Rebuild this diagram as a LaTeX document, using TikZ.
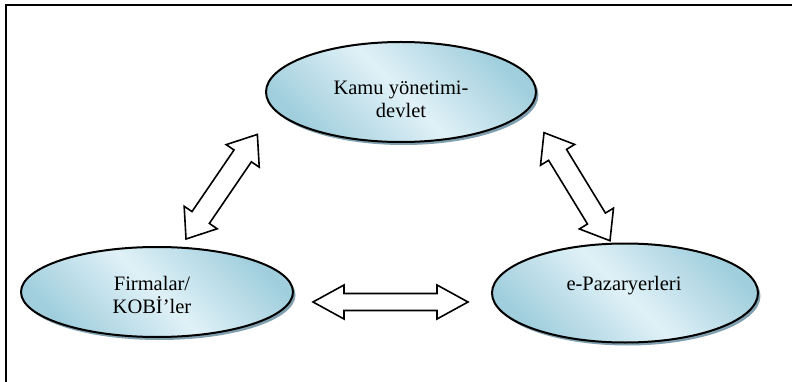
\documentclass[tikz,border=0pt]{standalone}
\usepackage{fontspec}
\setmainfont{Liberation Serif}
\usetikzlibrary{shapes.geometric,shadows}
\definecolor{ellc}{RGB}{160,206,221}
\definecolor{ellm}{RGB}{224,241,247}
\definecolor{shadc}{RGB}{128,160,176}
\tikzset{
  ell/.style={ellipse, draw=black, line width=2pt, inner sep=0pt,
    top color=ellc, bottom color=ellc, middle color=ellm, shading angle=-45,
    drop shadow={shadow xshift=2.5pt, shadow yshift=-3pt, fill=shadc, opacity=1}},
  lbl/.style={inner sep=0pt, align=center, font=\fontsize{20.5}{23}\selectfont},
  arrowline/.style={draw=black, fill=white, line width=1.6pt, line join=miter},
  frameline/.style={draw=black, line width=1.5pt}
}
\newcommand{\blockarrow}[7]{%
  \coordinate (#1) at #2;
  \draw[arrowline, shift={(#1)}, rotate=#3]
    (-#4,0) -- (-#4+#5,#6) -- (-#4+#5,#7) -- (#4-#5,#7) -- (#4-#5,#6) -- (#4,0)
    -- (#4-#5,-#6) -- (#4-#5,-#7) -- (-#4+#5,-#7) -- (-#4+#5,-#6) -- cycle;
}
\begin{document}
\begin{tikzpicture}[x=1pt,y=-1pt]
\useasboundingbox (0,0) rectangle (792,382);
% frame
\coordinate (fbl) at (6,382);
\coordinate (ftl) at (6,5);
\coordinate (ftr) at (792,5);
\draw[frameline] (fbl) -- (ftl) -- (ftr);
% ellipses
\node[ell, minimum width=270pt, minimum height=100pt] (kamu) at (401,92) {};
\node[ell, minimum width=272pt, minimum height=90pt] (firma) at (157,292) {};
\node[ell, minimum width=266pt, minimum height=99pt] (epaz) at (625,293) {};
% labels
\node[lbl] (kamuT) at (401,99.5) {Kamu yönetimi-\\devlet};
\node[lbl] (firmaT) at (152,294.5) {Firmalar/\\KOBİ’ler};
\node[lbl, anchor=base] (epazT) at (624,290) {e-Pazaryerleri};
% block arrows
\blockarrow{aleft}{(221.7,186.7)}{55.7}{63.3}{26}{20}{10.5}
\blockarrow{aright}{(577,186.7)}{-58.6}{63.3}{26}{20}{10.5}
\blockarrow{abottom}{(390.5,302)}{0}{77.5}{31}{17}{8.5}
\end{tikzpicture}
\end{document}
